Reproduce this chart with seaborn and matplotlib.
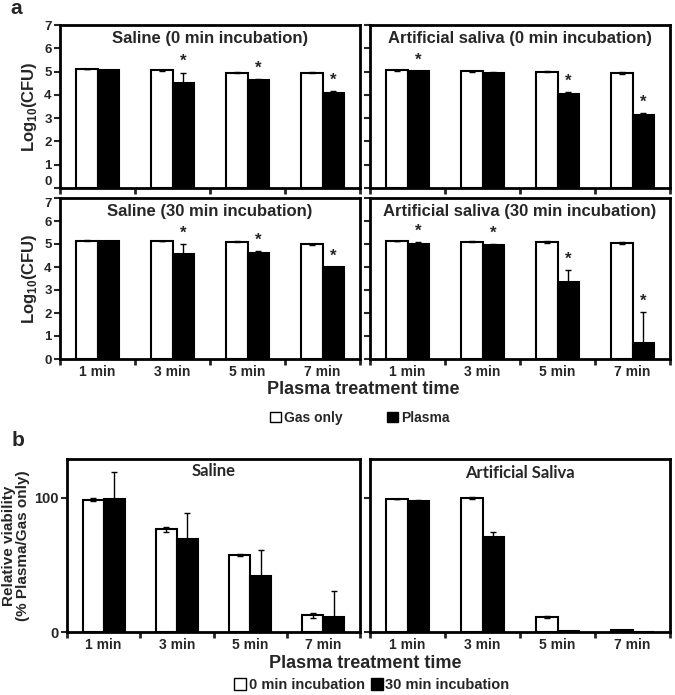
import numpy as np
import pandas as pd
import matplotlib
matplotlib.use('Agg')
import matplotlib.pyplot as plt
from matplotlib.patches import Patch
import seaborn as sns

times = ['1 min', '3 min', '5 min', '7 min']

# panel a: Log10(CFU)
sal0_gas = [5.11, 5.05, 4.95, 4.96]
sal0_gas_err = [0.02, 0.02, 0.02, 0.04]
sal0_plasma = [5.06, 4.53, 4.63, 4.08]
sal0_plasma_err = [0.02, 0.43, 0.07, 0.07]
sal0_star = [False, True, True, True]

as0_gas = [5.06, 5.02, 4.99, 4.95]
as0_gas_err = [0.02, 0.02, 0.02, 0.04]
as0_plasma = [5.02, 4.95, 4.04, 3.15]
as0_plasma_err = [0.02, 0.02, 0.07, 0.07]
as0_star = [True, False, True, True]

sal30_gas = [5.14, 5.13, 5.09, 4.99]
sal30_gas_err = [0.02, 0.02, 0.02, 0.02]
sal30_plasma = [5.12, 4.58, 4.62, 3.98]
sal30_plasma_err = [0.02, 0.43, 0.07, 0.04]
sal30_star = [False, True, True, True]

as30_gas = [5.13, 5.09, 5.09, 5.04]
as30_gas_err = [0.02, 0.02, 0.04, 0.04]
as30_plasma = [4.99, 4.94, 3.36, 0.71]
as30_plasma_err = [0.10, 0.05, 0.50, 1.34]
as30_star = [True, True, True, True]

# panel b: relative viability (%)
sal_inc0 = [98.8, 76.6, 57.2, 12.4]
sal_inc0_err = [0.8, 1.8, 0.8, 1.6]
sal_inc30 = [99.5, 69.7, 41.8, 11.2]
sal_inc30_err = [19.5, 19.3, 19.4, 19.1]
asal_inc0 = [99.2, 99.7, 11.3, 1.2]
asal_inc0_err = [0.3, 0.8, 1.0, 0.3]
asal_inc30 = [97.5, 71.0, 0.5, 0.1]
asal_inc30_err = [1.0, 3.3, 0.2, 0.0]

sns.set_style('white')
plt.rcParams['font.family'] = ['Liberation Sans', 'DejaVu Sans']
plt.rcParams['font.weight'] = 'bold'
plt.rcParams['mathtext.fontset'] = 'custom'
plt.rcParams['mathtext.bf'] = 'Liberation Sans:bold'
plt.rcParams['mathtext.rm'] = 'Liberation Sans:bold'

fig = plt.figure(figsize=(6.75, 6.95), dpi=100)


def draw(ax, v1, e1, v2, e2, names, stars=None, title='', ymax=7, showx=True,
         title_font=None, title_y=0.915):
    df = pd.DataFrame({'time': times * 2, 'value': v1 + v2,
                       'group': [names[0]] * 4 + [names[1]] * 4})
    sns.barplot(data=df, x='time', y='value', hue='group', order=times,
                hue_order=names, palette=['white', 'black'], saturation=1,
                edgecolor='black', linewidth=1.5, width=0.57, gap=0,
                errorbar=None, legend=False, ax=ax)
    for cont, errs in zip(ax.containers, [e1, e2]):
        for bar, e in zip(cont, errs):
            x = bar.get_x() + bar.get_width() / 2
            ax.errorbar(x, bar.get_height(), yerr=e, fmt='none', ecolor='black',
                        elinewidth=1, capsize=2.5, capthick=1)
    if stars is not None:
        for bar, e, s in zip(ax.containers[1], e2, stars):
            if s:
                ax.text(bar.get_x() + bar.get_width() / 2, bar.get_height() + e + 0.02 * ymax,
                        '*', ha='center', va='bottom', fontsize=12, fontweight='bold')
    ax.set_xlim(-0.5, 3.5)
    ax.set_ylim(0, ymax)
    ax.set_xlabel('')
    ax.set_ylabel('')
    ax.set_xticks(range(4))
    ax.set_xticklabels(times if showx else [], fontsize=10, fontweight='bold')
    ax.set_xticks([-0.5, 0.5, 1.5, 2.5, 3.5], minor=True)
    ax.tick_params(axis='x', which='major', length=0, pad=4)
    ax.tick_params(axis='x', which='minor', length=4, width=2, direction='out', bottom=True)
    ax.tick_params(axis='y', length=4, width=1.5, direction='out', left=True, labelsize=9.5,
                   pad=2)
    for sp in ax.spines.values():
        sp.set_visible(True)
        sp.set_linewidth(2)
        sp.set_color('black')
    kw = dict(fontsize=12, fontweight='bold')
    if title_font:
        kw['family'] = title_font
    ax.text(0.5, title_y, title, transform=ax.transAxes, ha='center', va='center', **kw)


W = 675.0
H = 695.0


def rect(x0, x1, ytop, ybot):
    return [x0 / W, 1 - ybot / H, (x1 - x0) / W, (ybot - ytop) / H]


pair_a = ['Gas only', 'Plasma']
ax1 = fig.add_axes(rect(60, 360, 25, 188))
draw(ax1, sal0_gas, sal0_gas_err, sal0_plasma, sal0_plasma_err, pair_a, sal0_star,
     'Saline (0 min incubation)', showx=False)
ax2 = fig.add_axes(rect(370, 670, 25, 188))
draw(ax2, as0_gas, as0_gas_err, as0_plasma, as0_plasma_err, pair_a, as0_star,
     'Artificial saliva (0 min incubation)', showx=False)
ax3 = fig.add_axes(rect(60, 360, 198, 359))
draw(ax3, sal30_gas, sal30_gas_err, sal30_plasma, sal30_plasma_err, pair_a, sal30_star,
     'Saline (30 min incubation)')
ax4 = fig.add_axes(rect(370, 670, 198, 359))
draw(ax4, as30_gas, as30_gas_err, as30_plasma, as30_plasma_err, pair_a, as30_star,
     'Artificial saliva (30 min incubation)')
for ax in (ax1, ax3):
    ax.set_yticks(range(8))
    ax.set_yticklabels([str(i) for i in range(8)], fontweight='bold')
    ax.set_ylabel(r'Log$_{\mathbf{10}}$(CFU)', fontsize=12, fontweight='bold', labelpad=4)
# keep the top row "0" clear of the bottom row "7"
ax1.get_yticklabels()[0].set_verticalalignment('bottom')
ax3.get_yticklabels()[-1].set_verticalalignment('top')
for ax in (ax2, ax4):
    ax.set_yticks(range(8))
    ax.set_yticklabels([])

pair_b = ['0 min incubation', '30 min incubation']
ax5 = fig.add_axes(rect(67, 360, 459, 632))
draw(ax5, sal_inc0, sal_inc0_err, sal_inc30, sal_inc30_err, pair_b, None,
     'Saline', ymax=129, title_font=['Lato', 'DejaVu Sans'], title_y=0.93)
ax6 = fig.add_axes(rect(370, 670, 459, 632))
draw(ax6, asal_inc0, asal_inc0_err, asal_inc30, asal_inc30_err, pair_b, None,
     'Artificial Saliva', ymax=129, title_font=['Lato', 'DejaVu Sans'], title_y=0.92)
ax5.set_yticks([0, 100])
ax5.set_yticklabels(['0', '100'], fontweight='bold', fontsize=10.5)
ax5.set_ylabel('Relative viability\n(% Plasma/Gas only)', fontsize=11,
               fontweight='bold', labelpad=3, linespacing=1.0)
ax6.set_yticks([0, 100])
ax6.set_yticklabels([])

fig.text(363 / W, 1 - 390 / H, 'Plasma treatment time', ha='center', va='center',
         fontsize=13, fontweight='bold')
fig.text(365 / W, 1 - 663 / H, 'Plasma treatment time', ha='center', va='center',
         fontsize=13, fontweight='bold')
fig.text(10 / W, 1 - 9 / H, 'a', ha='left', va='center', fontsize=15, fontweight='bold')
fig.text(12 / W, 1 - 441 / H, 'b', ha='left', va='center', fontsize=15, fontweight='bold')

h_white = Patch(facecolor='white', edgecolor='black', linewidth=1)
h_black = Patch(facecolor='black', edgecolor='black', linewidth=1)
fig.legend([h_white, h_black], pair_a, loc='center', bbox_to_anchor=(360 / W, 1 - 418 / H),
           ncol=2, frameon=False, handlelength=0.8, handleheight=0.8,
           handletextpad=0.2, columnspacing=3.2, prop={'weight': 'bold', 'size': 10})
fig.legend([h_white, h_black], pair_b, loc='center', bbox_to_anchor=(372 / W, 1 - 685 / H),
           ncol=2, frameon=False, handlelength=0.8, handleheight=0.8,
           handletextpad=0.2, columnspacing=0.4, prop={'weight': 'bold', 'size': 10.5})

fig.savefig('out.png', dpi=100)
